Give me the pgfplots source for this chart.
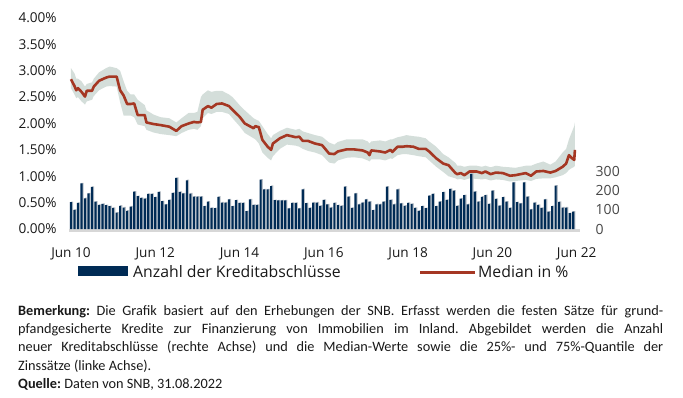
\documentclass[border=0pt]{standalone}
\usepackage{pgfplots}
\pgfplotsset{compat=1.18}
\usepackage{pgfplotstable}
\usepgfplotslibrary{fillbetween}
\usepackage{fontspec}
\setmainfont{Open Sans}
\newfontfamily\notefont{Carlito}
\definecolor{navy}{RGB}{0,43,85}
\definecolor{medred}{RGB}{165,55,35}
\definecolor{band}{RGB}{212,222,218}
\definecolor{shadow}{RGB}{185,192,200}
\definecolor{basegray}{RGB}{215,215,215}
\definecolor{txt}{RGB}{25,25,25}

\pgfplotstableread{
x n
0 140
1 100
2 136
3 238
4 160
5 186
6 219
7 143
8 126
9 131
10 124
11 119
12 110
13 85
14 121
15 112
16 95
17 117
18 195
19 171
20 162
21 159
22 183
23 183
24 166
25 193
26 145
27 128
28 152
29 188
30 266
31 193
32 186
33 254
34 185
35 169
36 169
37 169
38 119
39 143
40 110
41 109
42 168
43 138
44 138
45 154
46 119
47 150
48 136
49 136
50 93
51 154
52 126
53 126
54 257
55 206
56 206
57 224
58 150
59 149
60 149
61 149
62 107
63 136
64 136
65 107
66 207
67 135
68 110
69 138
70 138
71 121
72 152
73 128
74 112
75 136
76 124
77 121
78 221
79 169
80 110
81 186
82 129
83 138
84 154
85 143
86 98
87 129
88 129
89 143
90 221
91 152
92 129
93 207
94 133
95 121
96 136
97 131
98 110
99 95
100 119
101 109
102 174
103 183
104 119
105 143
106 192
107 152
108 209
109 200
110 121
111 159
112 176
113 129
114 287
115 195
116 143
117 168
118 176
119 131
120 200
121 157
122 122
123 166
124 143
125 110
126 243
127 140
128 133
129 243
130 169
131 102
132 138
133 126
134 110
135 154
136 90
137 119
138 226
139 141
140 112
141 112
142 83
143 90
}\bars

\pgfplotstableread{
x med lo hi
0 2.84 2.67 3.05
1 2.71 2.55 2.95
1.5 2.63 2.48 2.85
2 2.67 2.50 2.85
3 2.60 2.42 2.80
4 2.51 2.36 2.70
4.5 2.62 2.42 2.75
6 2.62 2.45 2.78
6.5 2.70 2.52 2.85
8 2.81 2.63 2.97
10 2.87 2.70 3.05
11 2.89 2.71 3.08
13 2.89 2.70 3.05
14 2.63 2.40 3.00
15 2.53 2.15 2.80
16 2.37 2.15 2.62
17 2.37 2.15 2.55
18 2.38 2.12 2.55
19 2.16 1.98 2.45
21 2.16 1.95 2.35
21.5 2.02 1.88 2.25
23.5 1.99 1.83 2.17
25.5 1.97 1.80 2.12
28 1.94 1.78 2.10
30 1.86 1.76 2.02
31.5 1.95 1.82 2.10
33.5 2.00 1.88 2.20
35 2.03 1.90 2.20
36 2.02 1.88 2.22
37 2.03 1.95 2.50
37.5 2.26 2.10 2.55
39 2.33 2.20 2.63
40 2.30 2.18 2.60
41.5 2.37 2.22 2.62
43 2.38 2.22 2.62
45 2.33 2.18 2.55
46 2.26 2.10 2.50
48 2.13 1.95 2.35
49.5 2.00 1.82 2.25
52 1.91 1.72 2.10
52.5 1.95 1.70 2.08
53.5 1.93 1.62 2.05
54.5 1.69 1.45 1.95
56 1.56 1.35 1.80
57 1.50 1.30 1.72
57.5 1.62 1.38 1.78
59.5 1.72 1.52 1.86
61.5 1.78 1.60 1.92
64 1.74 1.58 1.88
65 1.75 1.56 1.90
66 1.67 1.52 1.85
67.5 1.67 1.48 1.82
69.5 1.62 1.45 1.78
71.5 1.59 1.40 1.75
73.5 1.43 1.26 1.64
75 1.42 1.24 1.60
76 1.47 1.30 1.65
78.5 1.51 1.35 1.70
80.5 1.51 1.36 1.70
83 1.49 1.34 1.70
84.5 1.45 1.30 1.66
85 1.40 1.28 1.62
85.5 1.49 1.32 1.66
88 1.47 1.32 1.68
89.5 1.45 1.30 1.66
91 1.50 1.34 1.70
91.5 1.46 1.33 1.70
93 1.56 1.40 1.74
94.5 1.56 1.42 1.76
95.5 1.57 1.42 1.78
97.5 1.56 1.40 1.76
99 1.52 1.38 1.75
101 1.52 1.36 1.72
102 1.47 1.30 1.66
104 1.34 1.18 1.56
106 1.24 1.08 1.42
107.5 1.21 1.00 1.36
109.5 1.06 0.96 1.25
110 1.04 0.94 1.20
111 1.06 0.95 1.20
112 1.02 0.93 1.18
113.5 1.09 0.96 1.20
115.5 1.09 0.95 1.20
117 1.06 0.94 1.18
118 1.09 0.95 1.20
119.5 1.04 0.92 1.17
121 1.07 0.94 1.20
123 1.06 0.93 1.18
125 1.01 0.90 1.17
126.5 1.02 0.91 1.16
128 1.04 0.92 1.18
129.5 1.06 0.93 1.20
131 1.01 0.91 1.20
132.5 1.09 0.95 1.24
134.5 1.10 0.96 1.28
136.5 1.07 0.96 1.22
138 1.10 0.98 1.28
140 1.18 1.02 1.45
141 1.24 1.06 1.52
141.8 1.40 1.12 1.70
142.7 1.34 1.16 1.85
143.3 1.31 1.18 1.95
143.5 1.50 1.20 2.02
}\rates

\begin{document}
\frenchspacing
\begin{tikzpicture}
\begin{axis}[
  at={(69.2pt,-229pt)}, anchor=south west,
  scale only axis, width=511pt, height=211pt,
  xmin=-0.5, xmax=145, ymin=0, ymax=4,
  axis line style={draw=none}, tick style={draw=none},
  xtick={0,24,48,72,96,120,144},
  xticklabels={Jun 10,Jun 12,Jun 14,Jun 16,Jun 18,Jun 20,Jun 22},
  ytick={0,0.5,1,1.5,2,2.5,3,3.5,4},
  yticklabel={\pgfmathprintnumber[fixed,fixed zerofill,precision=2]{\tick}\%},
  /pgf/number format/assume math mode=true,
  ticklabel style={font=\fontsize{13.6}{16}\selectfont, text=txt},
  xticklabel style={anchor=base, yshift=-28pt},
  yticklabel style={anchor=east, xshift=-9pt},
]
\addplot[name path=hi, draw=none, forget plot] table[x=x,y=hi] {\rates};
\addplot[name path=lo, draw=none, forget plot] table[x=x,y=lo] {\rates};
\addplot[band, draw=none] fill between[of=hi and lo];
\end{axis}
\begin{axis}[
  at={(69.2pt,-229pt)}, anchor=south west,
  scale only axis, width=511pt, height=211pt,
  xmin=-0.5, xmax=145, ymin=0, ymax=1100,
  axis y line*=right, hide x axis,
  axis line style={draw=none}, tick style={draw=none},
  ytick={0,100,200,300},
  /pgf/number format/assume math mode=true,
  ticklabel style={font=\fontsize{14}{16}\selectfont, text=txt!80},
  yticklabel style={anchor=west, xshift=12pt},
  clip=false,
]
\addplot[basegray, line width=3pt, yshift=-1.5pt] coordinates {(-0.5,0) (145,0)};
\addplot[ybar, bar width=2.2pt, bar shift=1.1pt, fill=shadow, draw=none] table[x=x, y expr=\thisrow{n}+3] {\bars};
\addplot[ybar, bar width=2.2pt, bar shift=0pt, fill=navy, draw=none] table[x=x, y=n] {\bars};
\addplot[medred, line width=2.6pt, line join=round] table[x=x, y expr=\thisrow{med}*275] {\rates};
\end{axis}
\fill[navy] (78pt,-266pt) rectangle (128pt,-276pt);
\node[anchor=base west, inner sep=0pt, font=\fontsize{15.8}{18}\selectfont, text=txt] at (133pt,-277pt) {Anzahl der Kreditabschlüsse};
\draw[medred, line width=3pt] (420pt,-272pt) -- (475pt,-272pt);
\node[anchor=base west, inner sep=0pt, font=\fontsize{15.8}{18}\selectfont, text=txt] at (478pt,-277pt) {Median in \%};
\node[anchor=north west, inner sep=0pt, align=left, text=txt, font=\notefont\fontsize{14.3}{18.3}\selectfont] at (18pt,-305pt) {%
\makebox[645pt][s]{\textbf{Bemerkung:} Die Grafik basiert auf den Erhebungen der SNB. Erfasst werden die festen Sätze für grund-}\\
\makebox[645pt][s]{pfandgesicherte Kredite zur Finanzierung von Immobilien im Inland. Abgebildet werden die Anzahl}\\
\makebox[645pt][s]{neuer Kreditabschlüsse (rechte Achse) und die Median-Werte sowie die 25\%- und 75\%-Quantile der}\\
Zinssätze (linke Achse).\\
\textbf{Quelle:} Daten von SNB, 31.08.2022};
\path (0pt,0pt) rectangle (683pt,-397pt);
\end{tikzpicture}
\end{document}
